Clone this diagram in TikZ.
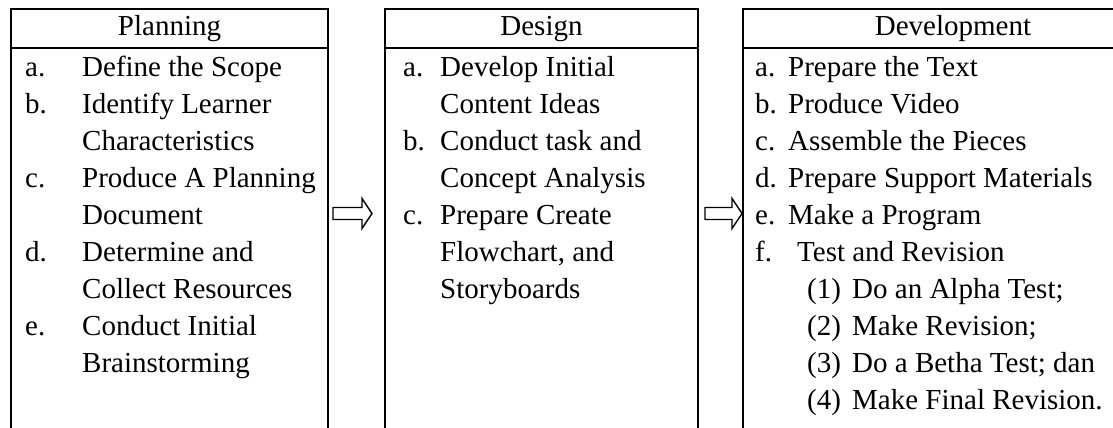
\documentclass[tikz,border=0pt]{standalone}
\usepackage{fontspec}
\setmainfont{Liberation Serif}
\usetikzlibrary{calc}
\begin{document}
\begin{tikzpicture}[x=1pt,y=-1pt,
  frame/.style={draw, line width=1.8pt, inner sep=0pt, outer sep=0pt, anchor=north west},
  headbox/.style={frame, minimum height=39pt, text height=20pt, text depth=6pt,
                  font=\fontsize{29}{35}\selectfont},
  txt/.style={anchor=base west, inner sep=0pt, font=\fontsize{29}{35}\selectfont},
  blockarrow/.style={draw, line width=1.4pt, line join=miter, fill=white}]
\useasboundingbox (0,0) rectangle (1113,428);
\clip (0,0) rectangle (1113,428);

% row baselines
\def\rowA{76}
\def\gap{37}

% ---- column frames ----
\node[headbox, minimum width=317pt] (plan) at (11,9) {Planning};
\node[frame, minimum width=317pt, minimum height=420pt] (planbody) at (plan.south west) {};
\node[headbox, minimum width=313pt] (design) at (385,9) {Design};
\node[frame, minimum width=313pt, minimum height=420pt] (designbody) at (design.south west) {};
\node[headbox, minimum width=420pt] (dev) at (743,9) {Development};
\node[frame, minimum width=420pt, minimum height=420pt] (devbody) at (dev.south west) {};

% ---- Planning ----
\node[txt] (pla) at (25,{\rowA+0*\gap}) {a.};
\node[txt] (pta) at (82,{\rowA+0*\gap}) {Define the Scope};
\node[txt] (plb) at (25,{\rowA+1*\gap}) {b.};
\node[txt] (ptb) at (82,{\rowA+1*\gap}) {Identify Learner};
\node[txt] (ptb2) at (82,{\rowA+2*\gap}) {Characteristics};
\node[txt] (plc) at (25,{\rowA+3*\gap}) {c.};
\node[txt] (ptc) at (82,{\rowA+3*\gap}) {Produce A Planning};
\node[txt] (ptc2) at (82,{\rowA+4*\gap}) {Document};
\node[txt] (pld) at (25,{\rowA+5*\gap}) {d.};
\node[txt] (ptd) at (82,{\rowA+5*\gap}) {Determine and};
\node[txt] (ptd2) at (82,{\rowA+6*\gap}) {Collect Resources};
\node[txt] (ple) at (25,{\rowA+7*\gap}) {e.};
\node[txt] (pte) at (82,{\rowA+7*\gap}) {Conduct Initial};
\node[txt] (pte2) at (82,{\rowA+8*\gap}) {Brainstorming};

% ---- Design ----
\node[txt] (dla) at (403,{\rowA+0*\gap}) {a.};
\node[txt] (dta) at (440,{\rowA+0*\gap}) {Develop Initial};
\node[txt] (dta2) at (440,{\rowA+1*\gap}) {Content Ideas};
\node[txt] (dlb) at (403,{\rowA+2*\gap}) {b.};
\node[txt] (dtb) at (440,{\rowA+2*\gap}) {Conduct task and};
\node[txt] (dtb2) at (440,{\rowA+3*\gap}) {Concept Analysis};
\node[txt] (dlc) at (403,{\rowA+4*\gap}) {c.};
\node[txt] (dtc) at (440,{\rowA+4*\gap}) {Prepare Create};
\node[txt] (dtc2) at (440,{\rowA+5*\gap}) {Flowchart, and};
\node[txt] (dtc3) at (440,{\rowA+6*\gap}) {Storyboards};

% ---- Development ----
\node[txt] (vla) at (755,{\rowA+0*\gap}) {a.};
\node[txt] (vta) at (788,{\rowA+0*\gap}) {Prepare the Text};
\node[txt] (vlb) at (755,{\rowA+1*\gap}) {b.};
\node[txt] (vtb) at (788,{\rowA+1*\gap}) {Produce Video};
\node[txt] (vlc) at (755,{\rowA+2*\gap}) {c.};
\node[txt] (vtc) at (788,{\rowA+2*\gap}) {Assemble the Pieces};
\node[txt] (vld) at (755,{\rowA+3*\gap}) {d.};
\node[txt] (vtd) at (788,{\rowA+3*\gap}) {Prepare Support Materials};
\node[txt] (vle) at (755,{\rowA+4*\gap}) {e.};
\node[txt] (vte) at (788,{\rowA+4*\gap}) {Make a Program};
\node[txt] (vlf) at (755,{\rowA+5*\gap}) {f.};
\node[txt] (vtf) at (797,{\rowA+5*\gap}) {Test and Revision};
\node[txt] (vl1) at (807,{\rowA+6*\gap}) {(1)};
\node[txt] (vt1) at (852,{\rowA+6*\gap}) {Do an Alpha Test;};
\node[txt] (vl2) at (807,{\rowA+7*\gap}) {(2)};
\node[txt] (vt2) at (852,{\rowA+7*\gap}) {Make Revision;};
\node[txt] (vl3) at (807,{\rowA+8*\gap}) {(3)};
\node[txt] (vt3) at (852,{\rowA+8*\gap}) {Do a Betha Test; dan};
\node[txt] (vl4) at (807,{\rowA+9*\gap}) {(4)};
\node[txt] (vt4) at (852,{\rowA+9*\gap}) {Make Final Revision.};

% ---- block arrows between the columns ----
\coordinate (arrowrow) at (0,213.5);
\path ($(planbody.east |- arrowrow)+(5,0)$) coordinate (a1s);
\path ($(designbody.west |- arrowrow)+(-13,0)$) coordinate (a1e);
\draw[blockarrow] ($(a1s)+(0,-6)$) -- ($(a1e)+(-10,-6)$) -- ($(a1e)+(-10,-15)$) -- (a1e)
  -- ($(a1e)+(-10,15)$) -- ($(a1e)+(-10,6)$) -- ($(a1s)+(0,6)$) -- cycle;
\path ($(designbody.east |- arrowrow)+(7,0)$) coordinate (a2s);
\path ($(devbody.west |- arrowrow)+(-1,0)$) coordinate (a2e);
\draw[blockarrow] ($(a2s)+(0,-6)$) -- ($(a2e)+(-10,-6)$) -- ($(a2e)+(-10,-15)$) -- (a2e)
  -- ($(a2e)+(-10,15)$) -- ($(a2e)+(-10,6)$) -- ($(a2s)+(0,6)$) -- cycle;
\end{tikzpicture}
\end{document}
